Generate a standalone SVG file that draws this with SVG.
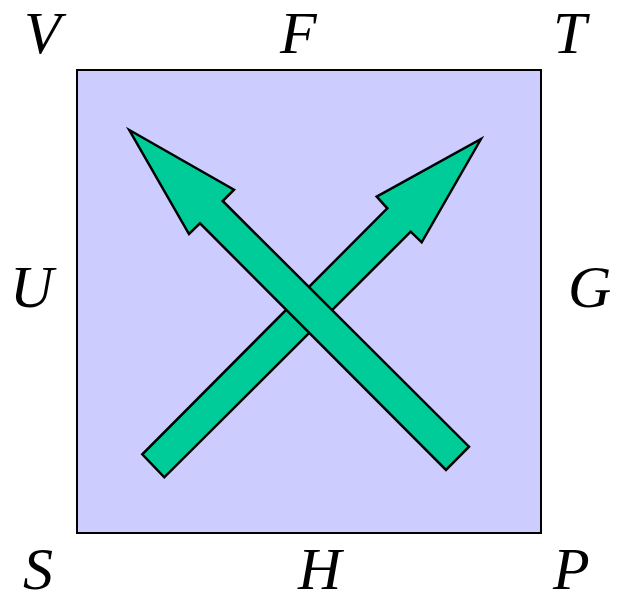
<svg xmlns="http://www.w3.org/2000/svg" width="618" height="602" viewBox="0 0 618 602">
<style>
.lbl{font-family:"Liberation Serif","Times New Roman",serif;font-style:italic;font-size:60px;fill:#000}
.arrow{fill:#00cc99;stroke:#000;stroke-width:2.5;stroke-linejoin:miter}
</style>
<rect width="618" height="602" fill="#fff"/>
<g id="square"><rect x="77" y="70" width="464" height="463" fill="#ccccff" stroke="#000" stroke-width="2"/></g>
<g id="connectors">
<polygon class="arrow" points="481,139 421.7,242.3 410.7,231.7 164.3,477.3 142.3,454.3 387.3,208.3 376.7,196.7"/>
<polygon class="arrow" points="129.3,130 234,189.7 222.7,201 469,446.7 446,470 200,223.3 189,234"/>
</g>
<g id="labels">
<text class="lbl" x="24" y="53">V</text>
<text class="lbl" x="280" y="53">F</text>
<text class="lbl" x="553" y="53">T</text>
<text class="lbl" x="10" y="307">U</text>
<text class="lbl" x="568" y="307">G</text>
<text class="lbl" x="23" y="589">S</text>
<text class="lbl" x="298" y="589">H</text>
<text class="lbl" x="553" y="589">P</text>
</g>
</svg>
